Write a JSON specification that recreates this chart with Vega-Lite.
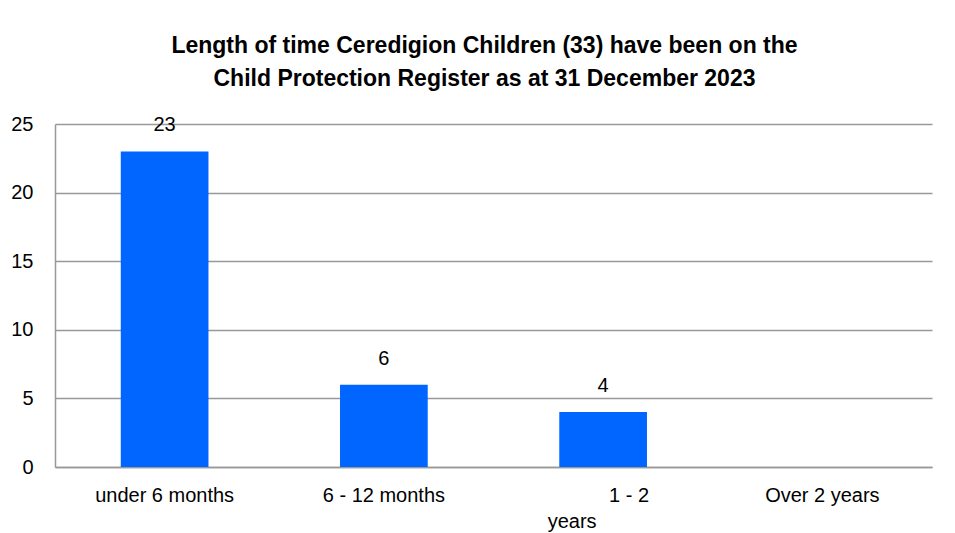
{
  "$schema": "https://vega.github.io/schema/vega-lite/v6.json",
  "width": 877,
  "height": 343,
  "autosize": {"type": "none"},
  "padding": {"left": 55, "top": 124, "right": 23, "bottom": 66},
  "background": "white",
  "title": {
    "text": ["Length of time Ceredigion Children (33) have been on the", "Child Protection Register as at 31 December 2023"],
    "font": "Liberation Sans",
    "fontSize": 23,
    "fontWeight": "bold",
    "color": "#000000",
    "anchor": "middle",
    "frame": "group",
    "dx": -9,
    "offset": 23,
    "lineHeight": 33
  },
  "data": {
    "values": [
      {"period": "under 6 months", "count": 23},
      {"period": "6 - 12 months", "count": 6},
      {"period": "1 - 2 years", "count": 4},
      {"period": "Over 2 years", "count": 0}
    ]
  },
  "encoding": {
    "x": {
      "field": "period",
      "type": "nominal",
      "sort": null,
      "scale": {"paddingInner": 0.6, "paddingOuter": 0.3},
      "axis": {
        "title": null,
        "labelAngle": 0,
        "labelFont": "Liberation Sans",
        "labelFontSize": 20,
        "labelColor": "#000000",
        "labelPadding": 18,
        "ticks": false,
        "domainColor": "#999999",
        "domainWidth": 1.5,
        "labelOffset": {"condition": {"test": "datum.value == '1 - 2 years'", "value": 26}, "value": 0},
        "labelExpr": "datum.value == '1 - 2 years' ? '1 - 2' : datum.value"
      }
    },
    "y": {
      "field": "count",
      "type": "quantitative",
      "scale": {"domain": [0, 25]},
      "axis": {
        "title": null,
        "values": [0, 5, 10, 15, 20, 25],
        "labelFont": "Liberation Sans",
        "labelFontSize": 20,
        "labelColor": "#000000",
        "labelPadding": 22,
        "ticks": false,
        "grid": true,
        "gridColor": "#999999",
        "gridWidth": 1.5,
        "domainColor": "#999999",
        "domainWidth": 1.5
      }
    }
  },
  "layer": [
    {"mark": {"type": "bar", "color": "#0066FF"}},
    {
      "transform": [{"filter": "datum.count > 0"}],
      "mark": {"type": "text", "baseline": "bottom", "dy": -16, "font": "Liberation Sans", "fontSize": 20, "color": "#000000"},
      "encoding": {"text": {"field": "count", "type": "quantitative"}}
    },
    {
      "transform": [{"filter": "datum.period == '1 - 2 years'"}],
      "mark": {"type": "text", "baseline": "middle", "dy": 55, "dx": -31, "font": "Liberation Sans", "fontSize": 20, "color": "#000000"},
      "encoding": {"y": {"datum": 0}, "text": {"value": "years"}}
    }
  ],
  "config": {"view": {"stroke": null}}
}
